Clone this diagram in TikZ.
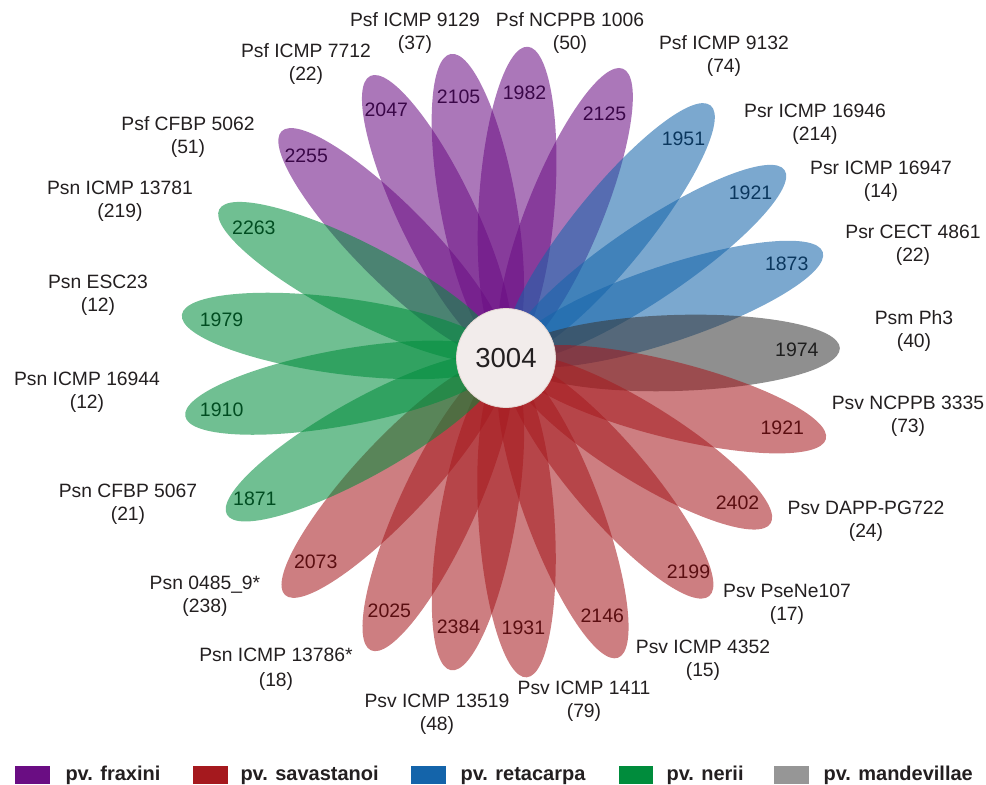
\documentclass[tikz,border=0pt]{standalone}
\usepackage{fontspec}
\setmainfont{Liberation Sans}
\definecolor{fraxini}{RGB}{106,13,131}
\definecolor{savastanoi}{RGB}{165,25,30}
\definecolor{retacarpa}{RGB}{20,100,170}
\definecolor{nerii}{RGB}{0,140,60}
\definecolor{mandevillae}{RGB}{55,55,55}
\definecolor{mandekey}{RGB}{150,150,150}
\definecolor{inkgray}{RGB}{35,31,32}
\definecolor{corefill}{RGB}{242,236,235}
\definecolor{corerim}{RGB}{228,214,210}

% angle / tip distance / number distance / shared genes / pathovar
\def\petals{
134.7/319/284/2255/fraxini,
115.7/313/276/2047/fraxini,
100.3/309/265/2105/fraxini,
86/312/266/1982/fraxini,
68/312/263/2125/fraxini,
51/325/282/1951/retacarpa,
34/336/295/1921/retacarpa,
18.5/334/296/1873/retacarpa,
1.7/334/291/1974/mandevillae,
-14.2/330/285/1921/savastanoi,
-32/312/273/2402/savastanoi,
-49.5/313/281/2199/savastanoi,
-69.5/320/275/2146/savastanoi,
-86.3/320/270/1931/savastanoi,
-100/317/273/2384/savastanoi,
-114.8/322/278/2025/savastanoi,
-133/324/279/2073/savastanoi,
-150.7/320/288/1871/nerii,
-169.7/326/289/1910/nerii,
172.4/327/287/1979/nerii,
152.6/323/284/2263/nerii}

\begin{document}
\begin{tikzpicture}[x=1pt,y=1pt,
  petal/.style={fill=#1, fill opacity=0.56},
  numtxt/.style={text=#1!55!black, font=\fontsize{19.5}{23}\selectfont},
  strain/.style={align=center, text=inkgray, font=\fontsize{19.3}{23}\selectfont},
  keytext/.style={anchor=base west, text=inkgray, font=\fontsize{20}{24}\selectfont\bfseries}]

\useasboundingbox (-506,-427) rectangle (480,358);

% the petals
\foreach \ang/\tip/\pos/\num/\col in \petals {
  \pgfmathsetmacro\rx{(\tip-6)/2}
  \pgfmathsetmacro\cx{(\tip+6)/2}
  \fill[petal=\col, rotate=\ang] (\cx,0) ellipse [x radius=\rx pt, y radius=38pt];
}

% numbers near the tips
\foreach \ang/\tip/\pos/\num/\col [count=\i] in \petals {
  \node[numtxt=\col] (p\i) at (\ang:\pos pt) {\num};
}

% core genome
\node[circle, minimum size=99pt, inner sep=0pt, fill=corefill, draw=corerim,
  line width=0.8pt, text=inkgray, font=\fontsize{27.5}{30}\selectfont] (core) at (0,0) {3004};

% strain names, placed in pixel coordinates
\begin{scope}[shift={(-506,358)}, y=-1pt]
\node[strain] (s1) at (415,33.5) {Psf ICMP 9129\\(37)};
\node[strain] (s2) at (570,33.5) {Psf NCPPB 1006\\(50)};
\node[strain] (s3) at (724,56) {Psf ICMP 9132\\(74)};
\node[strain] (s4) at (306,64) {Psf ICMP 7712\\(22)};
\node[strain] (s5) at (188,137) {Psf CFBP 5062\\(51)};
\node[strain] (s6) at (120,201) {Psn ICMP 13781\\(219)};
\node[strain] (s7) at (98,295.5) {Psn ESC23\\(12)};
\node[strain] (s8) at (87,392) {Psn ICMP 16944\\(12)};
\node[strain] (s9) at (128,504.5) {Psn CFBP 5067\\(21)};
\node[strain] (s10) at (205,596) {Psn 0485\_9*\\(238)};
\node[strain] (s11) at (276,669.5) {Psn ICMP 13786*\\[2pt](18)};
\node[strain] (s12) at (437,714.5) {Psv ICMP 13519\\(48)};
\node[strain] (s13) at (584,701.5) {Psv ICMP 1411\\(79)};
\node[strain] (s14) at (703,660.5) {Psv ICMP 4352\\(15)};
\node[strain] (s15) at (787,604.5) {Psv PseNe107\\(17)};
\node[strain] (s16) at (866,521) {Psv DAPP-PG722\\(24)};
\node[strain] (s17) at (908,416) {Psv NCPPB 3335\\(73)};
\node[strain] (s18) at (914,331) {Psm Ph3\\(40)};
\node[strain] (s19) at (913,245) {Psr CECT 4861\\(22)};
\node[strain] (s20) at (881,181) {Psr ICMP 16947\\(14)};
\node[strain] (s21) at (815,124) {Psr ICMP 16946\\(214)};

% legend
\fill[fraxini] (15,766) rectangle (50,784);
\node[keytext] (k1) at (62,780) {pv. fraxini};
\fill[savastanoi] (193,766) rectangle (228,784);
\node[keytext] (k2) at (237,780) {pv. savastanoi};
\fill[retacarpa] (411,766) rectangle (446,784);
\node[keytext] (k3) at (457,780) {pv. retacarpa};
\fill[nerii] (619,766) rectangle (653,784);
\node[keytext] (k4) at (663,780) {pv. nerii};
\fill[mandekey] (774,766) rectangle (809,784);
\node[keytext] (k5) at (820,780) {pv. mandevillae};
\end{scope}

\end{tikzpicture}
\end{document}
